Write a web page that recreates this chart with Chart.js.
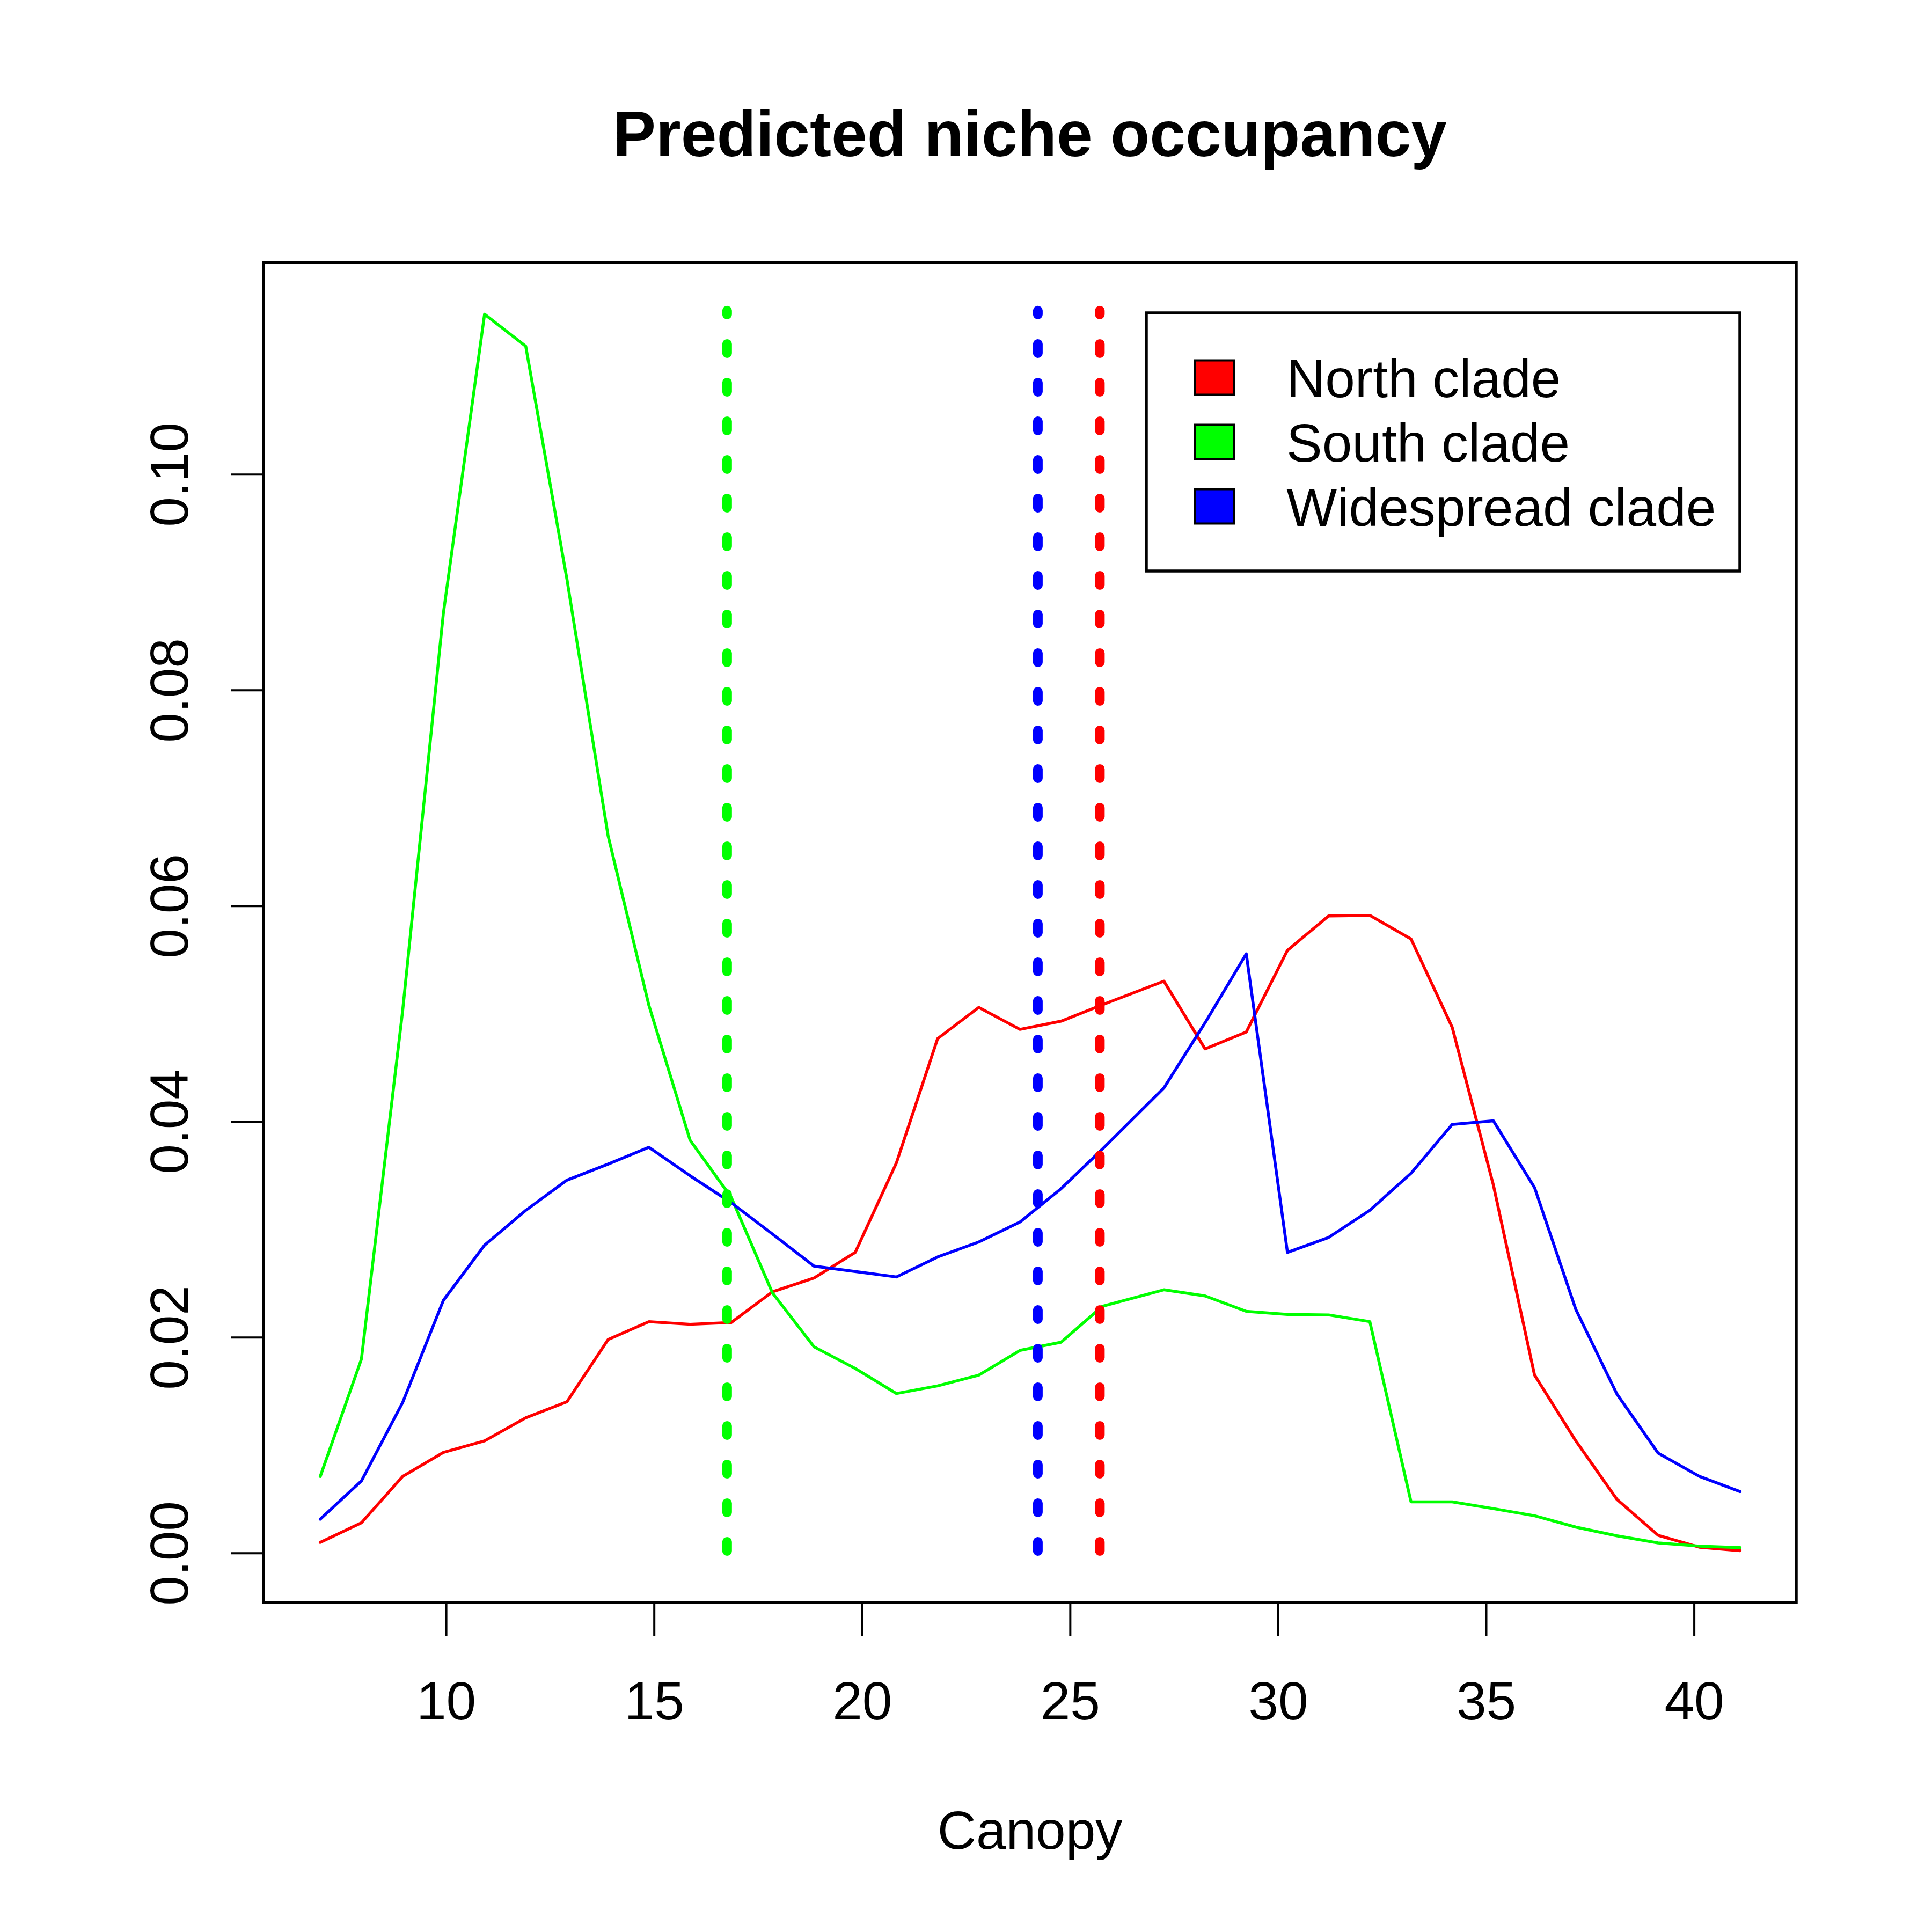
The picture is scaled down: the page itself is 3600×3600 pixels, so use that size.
<!DOCTYPE html>
<html>
<head>
<meta charset="utf-8">
<title>Predicted niche occupancy</title>
<script src="https://cdn.jsdelivr.net/npm/chart.js@4.4.1/dist/chart.umd.min.js"></script>
<style>
    html, body { margin: 0; padding: 0; background: #fff; }
    canvas { display: block; }
</style>
</head>
<body>
<canvas id="nicheCanvas" width="3600" height="3600"></canvas>
<script>
// canopy values (x) shared by the three curves
var canopy = [6.97, 7.96, 8.95, 9.93, 10.92, 11.91, 12.90, 13.89, 14.87, 15.86,
    16.85, 17.84, 18.84, 19.83, 20.82, 21.81, 22.80, 23.79, 24.78, 25.77,
    27.25, 28.24, 29.23, 30.22, 31.21, 32.20, 33.19, 34.18, 35.17, 36.16,
    37.15, 38.14, 39.13, 40.12, 41.10];

var north_clade = [0.00101, 0.00283, 0.00712, 0.00935, 0.01042, 0.01256, 0.01405, 0.01982, 0.02147, 0.02123,
    0.02140, 0.02424, 0.02552, 0.02790, 0.03619, 0.04771, 0.05061, 0.04857, 0.04933, 0.05085,
    0.05304, 0.04676, 0.04833, 0.05590, 0.05909, 0.05914, 0.05695, 0.04876, 0.03414, 0.01652,
    0.01043, 0.00500, 0.00167, 0.00057, 0.00024];

var south_clade = [0.00712, 0.01801, 0.05027, 0.08715, 0.11487, 0.11190, 0.09030, 0.06650, 0.05080, 0.03830,
    0.03300, 0.02414, 0.01914, 0.01714, 0.01481, 0.01552, 0.01652, 0.01881, 0.01957, 0.02290,
    0.02443, 0.02386, 0.02243, 0.02214, 0.02210, 0.02148, 0.00477, 0.00477, 0.00414, 0.00348,
    0.00243, 0.00162, 0.00096, 0.00067, 0.00053];

var widespread_clade = [0.00316, 0.00671, 0.01397, 0.02345, 0.02857, 0.03179, 0.03459, 0.03608, 0.03764, 0.03500,
    0.03250, 0.02960, 0.02662, 0.02612, 0.02562, 0.02747, 0.02886, 0.03071, 0.03381, 0.03747,
    0.04314, 0.04918, 0.05557, 0.02790, 0.02928, 0.03180, 0.03523, 0.03976, 0.04009, 0.03390,
    0.02262, 0.01476, 0.00929, 0.00714, 0.00572];

// mean canopy per clade (dotted verticals): north, south, widespread
var clade_names = ['North clade', 'South clade', 'Widespread clade'];
var clade_colors = ['#ff0000', '#00ff00', '#0000ff'];
var clade_means = [25.71, 16.75, 24.22];
var mean_line_top = 0.1152;

var x_ticks = [10, 15, 20, 25, 30, 35, 40];
var y_ticks = [0, 0.02, 0.04, 0.06, 0.08, 0.10];
var y_tick_labels = ['0.00', '0.02', '0.04', '0.06', '0.08', '0.10'];

var FONT = '"Liberation Sans", Arial, Helvetica, sans-serif';

function toPoints(xs, ys) {
    var pts = [];
    for (var i in xs) {
        pts.push({x: xs[i], y: ys[i]});
    }
    return pts;
}

function curve(label, values, color, order) {
    return {
        label: label,
        data: toPoints(canopy, values),
        borderColor: color,
        backgroundColor: color,
        borderWidth: 5.5,
        borderJoinStyle: 'round',
        borderCapStyle: 'round',
        pointRadius: 0,
        tension: 0,
        fill: false,
        order: order
    };
}

function meanLine(xval, color) {
    return {
        label: 'mean',
        data: [{x: xval, y: 0}, {x: xval, y: mean_line_top}],
        borderColor: color,
        borderWidth: 18,
        borderCapStyle: 'round',
        borderDash: [17, 55],
        borderDashOffset: 67.6,
        pointRadius: 0,
        fill: false,
        order: 0
    };
}

var datasets = [
    curve(clade_names[0], north_clade, clade_colors[0], 3),
    curve(clade_names[1], south_clade, clade_colors[1], 2),
    curve(clade_names[2], widespread_clade, clade_colors[2], 1),
    meanLine(clade_means[1], clade_colors[1]),
    meanLine(clade_means[2], clade_colors[2]),
    meanLine(clade_means[0], clade_colors[0])
];

// white page + R style box, axes, title and legend
var rFrame = {
    id: 'rFrame',
    beforeDraw: function(chart) {
        var ctx = chart.ctx;
        ctx.save();
        ctx.fillStyle = '#fff';
        ctx.fillRect(0, 0, chart.width, chart.height);
        ctx.restore();
    },
    afterDraw: function(chart) {
        var ctx = chart.ctx;
        var area = chart.chartArea;
        var xs = chart.scales.x;
        var ys = chart.scales.y;
        ctx.save();
        ctx.strokeStyle = '#000';
        ctx.fillStyle = '#000';

        // box
        ctx.lineWidth = 5.5;
        ctx.strokeRect(area.left, area.top, area.right - area.left, area.bottom - area.top);

        // x axis
        ctx.lineWidth = 4;
        ctx.font = '100px ' + FONT;
        ctx.textAlign = 'center';
        ctx.textBaseline = 'alphabetic';
        for (var i in x_ticks) {
            var px = xs.getPixelForValue(x_ticks[i]);
            ctx.beginPath();
            ctx.moveTo(px, area.bottom);
            ctx.lineTo(px, area.bottom + 62);
            ctx.stroke();
            ctx.fillText(String(x_ticks[i]), px, 3204);
        }

        // y axis
        for (var j in y_ticks) {
            var py = ys.getPixelForValue(y_ticks[j]);
            ctx.beginPath();
            ctx.moveTo(area.left, py);
            ctx.lineTo(area.left - 61, py);
            ctx.stroke();
            ctx.save();
            ctx.translate(350, py);
            ctx.rotate(-Math.PI / 2);
            ctx.fillText(y_tick_labels[j], 0, 0);
            ctx.restore();
        }

        var cx = (area.left + area.right) / 2;
        ctx.fillText('Canopy', cx, 3445);
        ctx.font = 'bold 120px ' + FONT;
        ctx.fillText('Predicted niche occupancy', cx, 291);

        // legend
        ctx.lineWidth = 5.5;
        ctx.strokeRect(2136, 583, 3242 - 2136, 1064 - 583);
        ctx.font = '100px ' + FONT;
        ctx.textAlign = 'left';
        ctx.lineWidth = 4;
        for (var k in clade_names) {
            var rowY = 703.5 + k * 120;
            ctx.fillStyle = clade_colors[k];
            ctx.fillRect(2226, rowY - 32, 74, 64);
            ctx.strokeRect(2226, rowY - 32, 74, 64);
            ctx.fillStyle = '#000';
            ctx.fillText(clade_names[k], 2397, 740 + k * 120);
        }
        ctx.restore();
    }
};

var nicheChart = new Chart(document.getElementById('nicheCanvas'), {
    type: 'line',
    data: {datasets: datasets},
    plugins: [rFrame],
    options: {
        responsive: false,
        devicePixelRatio: 1,
        animation: false,
        layout: {
            padding: {left: 491, right: 3600 - 3347, top: 489, bottom: 3600 - 2986}
        },
        scales: {
            x: {type: 'linear', min: 5.606, max: 42.45, display: false},
            y: {type: 'linear', min: -0.00456, max: 0.11967, display: false}
        },
        plugins: {
            legend: {display: false},
            title: {display: false},
            tooltip: {enabled: false}
        }
    }
});
</script>
</body>
</html>
